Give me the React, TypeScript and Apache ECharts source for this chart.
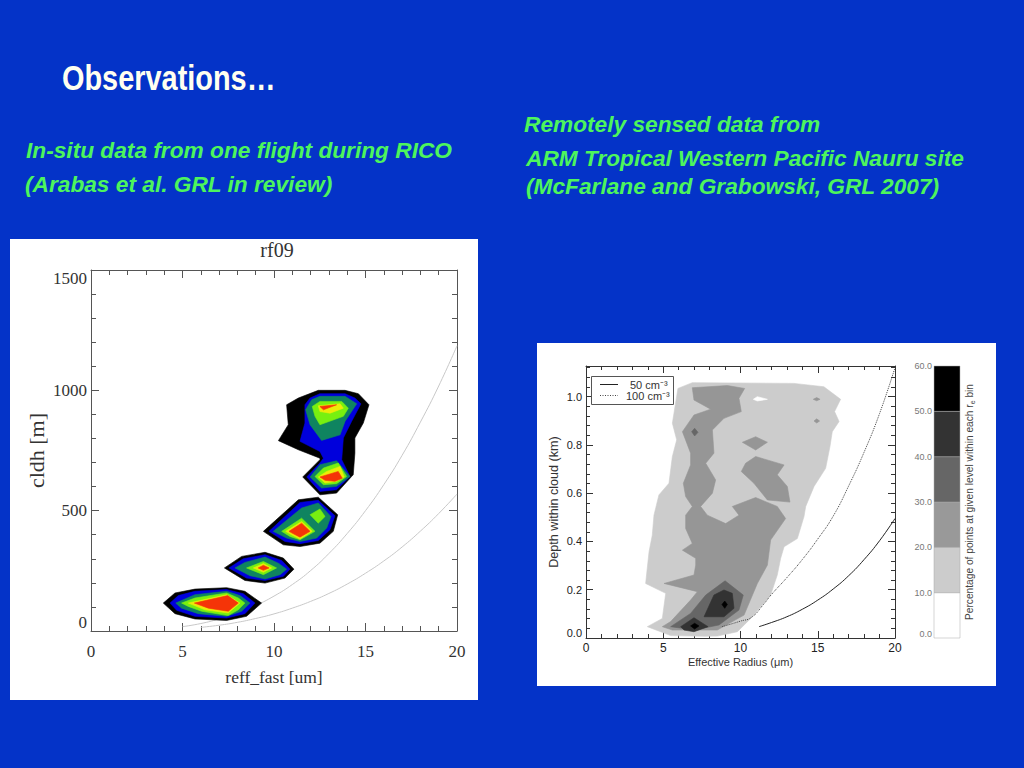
import React, { useEffect, useRef } from "react";
import * as echarts from "echarts";

type Pt = [number, number];

// ---------- left chart (rf09): contour polygons in [reff um, cldh m] ----------
const rfBlack: Pt[][] = [
  [[10.69,940],[11.33,968],[12.42,1000],[13.88,1000],[14.61,986],[15.19,940],[14.88,864],[14.42,802],[14.42,739],[14.33,649],[14.24,642],[13.42,573],[12.51,566],[11.57,640],[12.51,712],[12.51,718],[11.33,753],[10.24,791],[10.78,857]],
  [[9.42,414],[11.33,545],[12.42,556],[13.48,483],[13.24,414],[12.51,365],[11.42,351],[10.51,358]],
  [[7.29,262],[8.23,310],[9.51,327],[10.51,303],[11.09,257],[10.6,220],[9.51,199],[8.41,210]],
  [[3.95,116],[4.59,158],[5.68,174],[7.41,180],[8.41,165],[9.32,116],[8.5,61],[7.41,44],[5.68,50],[4.59,72]],
];
const rfBlue: Pt[][] = [
  [[11.69,940],[11.97,968],[12.51,986],[13.88,986],[14.42,968],[14.75,944],[14.24,871],[13.79,802],[13.7,712],[14.15,642],[13.42,587],[12.51,580],[11.79,640],[12.51,698],[12.7,718],[12.51,746],[11.42,788],[11.69,864]],
  [[9.73,414],[11.42,534],[12.42,543],[13.33,479],[13.06,421],[12.42,376],[11.42,363],[10.6,372]],
  [[7.54,262],[8.32,300],[9.51,317],[10.42,293],[10.87,257],[10.51,227],[9.51,210],[8.5,220]],
  [[4.32,116],[4.77,147],[5.68,165],[7.41,172],[8.32,155],[8.96,116],[8.41,72],[7.41,54],[5.68,61],[4.68,86]],
];
const rfTeal: Pt[][] = [
  [[11.73,919],[12.06,961],[12.51,975],[13.88,975],[14.52,944],[13.88,871],[13.61,815],[12.6,792],[11.97,857]],
  [[11.97,640],[12.51,691],[13.42,707],[14.15,642],[13.42,601],[12.6,594]],
  [[9.96,414],[11.51,511],[12.42,532],[13.11,476],[12.88,428],[12.33,386],[11.42,372],[10.69,386]],
  [[7.87,262],[8.41,285],[9.51,307],[10.23,282],[10.69,257],[10.33,234],[9.51,216],[8.69,230]],
  [[4.63,116],[5.68,151],[7.41,165],[8.14,147],[8.69,116],[8.23,82],[7.41,61],[5.86,72],[4.95,95]],
];
const rfGreen: Pt[][] = [
  [[12.09,933],[12.51,954],[13.7,954],[14.06,926],[13.79,892],[12.51,857],[12.24,892]],
  [[12.24,642],[12.7,677],[13.51,698],[13.97,642],[13.42,612],[12.7,608]],
  [[10.42,414],[11.51,469],[12.24,414],[11.42,379],[10.87,393]],
  [[11.97,483],[12.51,507],[12.79,476],[12.42,448]],
  [[8.5,262],[9.42,289],[10.14,262],[9.42,234]],
  [[4.95,116],[5.68,137],[7.41,158],[8.05,137],[8.41,116],[8.05,88],[7.5,64],[6.05,82],[5.32,102]],
];
const rfYellow: Pt[][] = [
  [[12.42,936],[13.61,944],[13.79,926],[13.06,905],[12.51,912]],
  [[12.42,640],[12.88,663],[13.61,684],[13.84,640],[13.42,622],[12.79,615]],
  [[10.64,414],[11.51,455],[12.09,414],[11.42,382],[10.96,400]],
  [[8.87,262],[9.42,280],[9.87,262],[9.42,244]],
  [[5.32,116],[7.41,151],[8.14,116],[7.5,75],[6.23,88]],
];
const rfRed: Pt[][] = [
  [[12.51,933],[13.42,940],[12.7,919]],
  [[12.51,640],[13.51,663],[13.73,635],[13.33,622],[12.79,626]],
  [[10.82,414],[11.51,448],[11.97,414],[11.42,390],[11.06,404]],
  [[9.14,262],[9.42,273],[9.73,262],[9.42,252]],
  [[5.65,116],[7.47,147],[8.05,116],[7.5,82],[6.41,95]],
];
const rfCurveUpper: Pt[] = [[5,18],[6,31],[7,50],[8,74],[9,106],[10,145],[11,193],[12,251],[13,322],[14,405],[15,500],[16,608],[17,730],[18,868],[19,1018],[20,1185]];
const rfCurveLower: Pt[] = [[6,15],[7,24],[8,36],[9,52],[10,71],[11,95],[12,123],[13,156],[14,195],[15,240],[16,291],[17,349],[18,415],[19,488],[20,569]];

// ---------- right chart (Nauru): contour polygons in [radius um, depth km] ----------
const nauruLevel10: Pt[][] = [
  [[5.95,1.034],[6.88,1.058],[13.46,1.055],[15.4,1.041],[16.48,0.989],[16.09,0.938],[16.38,0.897],[15.94,0.855],[15.79,0.793],[15.51,0.703],[14.76,0.628],[14.22,0.545],[14.11,0.503],[13.68,0.412],[12.82,0.378],[12.6,0.33],[12.38,0.261],[11.95,0.178],[10.66,0.081],[9.8,0.026],[8.5,0.008],[7.64,0.007],[5.48,0.01],[3.97,0.047],[4.94,0.081],[5.16,0.185],[3.86,0.226],[4.08,0.357],[4.29,0.426],[4.4,0.509],[4.72,0.593],[5.37,0.641],[5.59,0.752],[5.87,0.821],[5.59,0.89]],
];
const nauruHole: Pt[][] = [
  [[10.83,0.989],[11.09,1.0],[11.74,0.989],[11.09,0.982]],
];
const nauruLevel20: Pt[][] = [
  [[6.88,1.037],[6.99,0.986],[8.07,0.948],[6.99,0.924],[6.24,0.855],[6.77,0.766],[6.77,0.717],[6.3,0.641],[6.45,0.586],[6.88,0.545],[6.45,0.509],[6.45,0.454],[6.88,0.392],[6.24,0.364],[7.1,0.33],[7.1,0.302],[6.99,0.261],[5.05,0.226],[7.21,0.192],[6.77,0.157],[5.48,0.068],[4.94,0.047],[5.59,0.033],[8.5,0.033],[10.23,0.095],[11.09,0.226],[11.74,0.302],[11.95,0.406],[12.92,0.495],[12.38,0.545],[10.98,0.582],[9.47,0.545],[9.9,0.509],[9.04,0.474],[7.85,0.509],[7.42,0.545],[8.18,0.6],[8.39,0.655],[7.75,0.724],[8.28,0.766],[8.18,0.862],[8.93,0.91],[10.05,0.938],[9.9,0.993],[10.27,1.034],[9.15,1.046]],
  [[10.12,0.811],[10.98,0.834],[11.74,0.811],[10.98,0.779]],
  [[10.33,0.724],[10.98,0.752],[12.82,0.717],[12.38,0.676],[13.03,0.628],[13.2,0.563],[11.74,0.572],[10.87,0.641],[10.05,0.69]],
  [[14.71,0.989],[14.93,0.996],[15.15,0.989],[14.93,0.983]],
  [[14.76,0.899],[14.93,0.908],[15.12,0.899],[14.93,0.891]],
];
const nauruLevel30: Pt[][] = [
  [[6.84,0.855],[7.03,0.869],[7.25,0.852],[7.03,0.837]],
  [[5.48,0.047],[6.77,0.102],[7.75,0.178],[9.0,0.237],[10.18,0.178],[9.9,0.116],[8.61,0.054],[6.99,0.033]],
];
const nauruLevel40: Pt[][] = [
  [[7.64,0.088],[8.28,0.178],[8.93,0.199],[9.47,0.185],[9.58,0.123],[8.93,0.088]],
  [[6.13,0.047],[6.99,0.084],[7.9,0.047],[6.99,0.026],[6.34,0.033]],
];
const nauruLevel50: Pt[][] = [
  [[8.8,0.139],[8.98,0.153],[9.15,0.139],[8.98,0.123]],
  [[6.77,0.05],[7.03,0.061],[7.31,0.05],[7.03,0.037]],
];
const curve50cm: Pt[] = [[11.2,0.047],[12,0.064],[13,0.088],[14,0.119],[15,0.157],[16,0.203],[17,0.258],[18,0.325],[19,0.403],[20,0.495]];
const curve100cm: Pt[] = [[8.8,0.047],[9.5,0.06],[10,0.07],[10.7,0.085],[11.5,0.14],[12,0.18],[13,0.25],[14,0.325],[15,0.41],[16,0.505],[17,0.63],[18,0.77],[19,0.93],[20,1.12]];

// ---------- colour bar ----------
const barBands: [number, number][] = [[0,10],[10,20],[20,30],[30,40],[40,50],[50,60]];
const barColors = ["#ffffff", "#cccccc", "#999999", "#666666", "#333333", "#000000"];

const SANS = '"Liberation Sans", Arial, sans-serif';
const SERIF = '"Liberation Serif", "Times New Roman", serif';
const GREEN = "#4df55c";

function contour(polys: Pt[][], color: string, axis: number) {
  return {
    type: "custom",
    xAxisIndex: axis,
    yAxisIndex: axis,
    clip: true,
    z: 2,
    data: polys.map((p) => p[0]),
    renderItem: (params: any, api: any) => ({
      type: "polygon",
      shape: { points: polys[params.dataIndex].map((p) => api.coord(p)) },
      style: { fill: color, stroke: color, lineWidth: 0.6 },
    }),
  };
}

function curve(data: Pt[], axis: number, color: string, width: number, type: string, z: number) {
  return {
    type: "line",
    xAxisIndex: axis,
    yAxisIndex: axis,
    data,
    smooth: true,
    showSymbol: false,
    symbol: "none",
    silent: true,
    lineStyle: { color, width, type },
    z,
  };
}

function frameAxis(base: any, position: string, grid: number, lineColor: string, len: number, minorLen: number) {
  return {
    ...base,
    gridIndex: grid,
    position,
    axisLine: { show: true, onZero: false, lineStyle: { color: lineColor, width: 1 } },
    axisTick: { show: true, inside: true, length: len, lineStyle: { color: lineColor, width: 1 } },
    minorTick: { show: true, length: minorLen, lineStyle: { color: lineColor, width: 1 } },
    splitLine: { show: false },
  };
}

function text(content: string, x: number, y: number, fontSize: number, fill: string, extra: any = {}, styleExtra: any = {}) {
  return {
    type: "text",
    x,
    y,
    z: 100,
    ...extra,
    style: { text: content, fontSize, fill, fontFamily: SANS, verticalAlign: "middle", ...styleExtra },
  };
}

export default function App() {
  const ref = useRef<HTMLDivElement>(null);

  useEffect(() => {
    const chart = echarts.init(ref.current!, null, { renderer: "svg" });

    const rfX = { type: "value", min: 0, max: 20, interval: 5 };
    const rfY = { type: "value", min: 0, max: 1500, interval: 500 };
    const nX = { type: "value", min: 0, max: 20, interval: 5 };
    const nY = { type: "value", min: 0, max: 1.127, interval: 0.2 };

    const rfLine = "#555555";
    const nLine = "#333333";

    const rfLabel = { fontFamily: SERIF, fontSize: 17, color: "#333333" };
    const boldStyle = { fontWeight: "bold", fontStyle: "italic" };

    chart.setOption({
      animation: false,
      backgroundColor: "#0433c8",
      grid: [
        { left: 91, top: 270, width: 366, height: 361 },
        { left: 586, top: 366, width: 309, height: 272 },
        { left: 934, top: 366, width: 26, height: 272 },
      ],
      xAxis: [
        {
          ...frameAxis(rfX, "bottom", 0, rfLine, 8, 5),
          name: "reff_fast [um]",
          nameLocation: "middle",
          nameGap: 37,
          nameTextStyle: { fontFamily: SERIF, fontSize: 17.5, color: "#333333" },
          axisLabel: { ...rfLabel, margin: 12 },
        },
        {
          ...frameAxis(nX, "bottom", 1, nLine, 7, 4),
          name: "Effective Radius (μm)",
          nameLocation: "middle",
          nameGap: 18,
          nameTextStyle: { fontFamily: SANS, fontSize: 11, color: "#333333" },
          axisLabel: { fontFamily: SANS, fontSize: 12, color: "#222222", margin: 4 },
        },
        { type: "value", gridIndex: 2, min: 0, max: 1, show: false },
        { ...frameAxis(rfX, "top", 0, rfLine, 8, 5), axisLabel: { show: false } },
        { ...frameAxis(nX, "top", 1, nLine, 7, 4), axisLabel: { show: false } },
      ],
      yAxis: [
        {
          ...frameAxis(rfY, "left", 0, rfLine, 8, 5),
          name: "cldh [m]",
          nameLocation: "middle",
          nameGap: 44,
          nameTextStyle: { fontFamily: SERIF, fontSize: 22, color: "#333333" },
          axisLabel: {
            ...rfLabel,
            margin: 4,
            verticalAlignMinLabel: "bottom",
            verticalAlignMaxLabel: "top",
            formatter: (v: number) => String(v),
          },
        },
        {
          ...frameAxis(nY, "left", 1, nLine, 7, 4),
          name: "Depth within cloud (km)",
          nameLocation: "middle",
          nameGap: 26,
          nameTextStyle: { fontFamily: SANS, fontSize: 12.6, color: "#333333" },
          axisLabel: {
            fontFamily: SANS,
            fontSize: 11,
            color: "#222222",
            margin: 4,
            showMaxLabel: false,
            verticalAlignMinLabel: "bottom",
            formatter: (v: number) => v.toFixed(1),
          },
        },
        {
          type: "value",
          gridIndex: 2,
          min: 0,
          max: 60,
          interval: 10,
          axisLine: { show: false },
          axisTick: { show: false },
          splitLine: { show: false },
          axisLabel: {
            fontFamily: SANS,
            fontSize: 9,
            color: "#777777",
            margin: 2,
            verticalAlignMinLabel: "bottom",
            formatter: (v: number) => v.toFixed(1),
          },
        },
        { ...frameAxis(rfY, "right", 0, rfLine, 8, 5), axisLabel: { show: false } },
        { ...frameAxis(nY, "right", 1, nLine, 7, 4), axisLabel: { show: false } },
      ],
      series: [
        contour(rfBlack, "#000000", 0),
        contour(rfBlue, "#0000dc", 0),
        contour(rfTeal, "#0f8460", 0),
        contour(rfGreen, "#78f010", 0),
        contour(rfYellow, "#ecec08", 0),
        contour(rfRed, "#f53408", 0),
        curve(rfCurveUpper, 0, "#c8c8c8", 1, "solid", 1),
        curve(rfCurveLower, 0, "#c8c8c8", 1, "solid", 1),

        contour(nauruLevel10, "#cccccc", 1),
        contour(nauruHole, "#ffffff", 1),
        contour(nauruLevel20, "#969696", 1),
        contour(nauruLevel30, "#666666", 1),
        contour(nauruLevel40, "#333333", 1),
        contour(nauruLevel50, "#000000", 1),
        curve(curve50cm, 1, "#222222", 1, "solid", 5),
        curve(curve100cm, 1, "#444444", 1, "dotted", 5),

        {
          type: "custom",
          xAxisIndex: 2,
          yAxisIndex: 2,
          data: barBands.map((b) => [0, b[0]]),
          renderItem: (params: any, api: any) => {
            const band = barBands[params.dataIndex];
            const a = api.coord([0, band[1]]);
            const b = api.coord([1, band[0]]);
            return {
              type: "rect",
              shape: { x: a[0], y: a[1], width: b[0] - a[0], height: b[1] - a[1] },
              style: { fill: barColors[params.dataIndex], stroke: "#aaaaaa", lineWidth: 0.5 },
            };
          },
        },
      ],
      graphic: [
        { type: "rect", z: -10, shape: { x: 10, y: 239, width: 468, height: 461 }, style: { fill: "#ffffff" } },
        { type: "rect", z: -10, shape: { x: 537, y: 343, width: 459, height: 343 }, style: { fill: "#ffffff" } },

        text("Observations…", 62, 78, 35, "#fffff0", { scaleX: 0.826 }, { fontWeight: "bold" }),
        text("In-situ data from one flight during RICO", 26, 150, 22.7, GREEN, {}, boldStyle),
        text("(Arabas et al. GRL in review)", 25, 184, 22.7, GREEN, {}, boldStyle),
        text("Remotely sensed data from", 524, 124, 22.7, GREEN, {}, boldStyle),
        text("ARM Tropical Western Pacific Nauru site", 526, 158, 22.7, GREEN, {}, boldStyle),
        text("(McFarlane and Grabowski, GRL 2007)", 526, 186, 22.7, GREEN, {}, boldStyle),

        text("rf09", 277, 250, 20, "#333333", {}, { fontFamily: SERIF, align: "center" }),

        { type: "rect", z: 90, shape: { x: 591.5, y: 376.5, width: 82, height: 28 }, style: { fill: "#ffffff", stroke: "#555555", lineWidth: 1 } },
        { type: "line", z: 100, shape: { x1: 600, y1: 384.5, x2: 618, y2: 384.5 }, style: { stroke: "#222222", lineWidth: 1 } },
        { type: "line", z: 100, shape: { x1: 600, y1: 395.5, x2: 618, y2: 395.5 }, style: { stroke: "#444444", lineWidth: 1, lineDash: [1, 1.5] } },
        text("50 cm⁻³", 630, 384.5, 11, "#333333"),
        text("100 cm⁻³", 626, 395.5, 11, "#333333"),

        text(
          "Percentage of points at given level within each r{sub|e} bin",
          969,
          502,
          10.2,
          "#444444",
          { rotation: Math.PI / 2 },
          { align: "center", rich: { sub: { fontSize: 7, fontFamily: SANS, fill: "#444444", padding: [6, 0, 0, 0] } } }
        ),
      ],
    });

    return () => chart.dispose();
  }, []);

  return (
    <div
      ref={ref}
      style={{ position: "absolute", left: 0, top: 0, width: 1024, height: 768 }}
    />
  );
}
